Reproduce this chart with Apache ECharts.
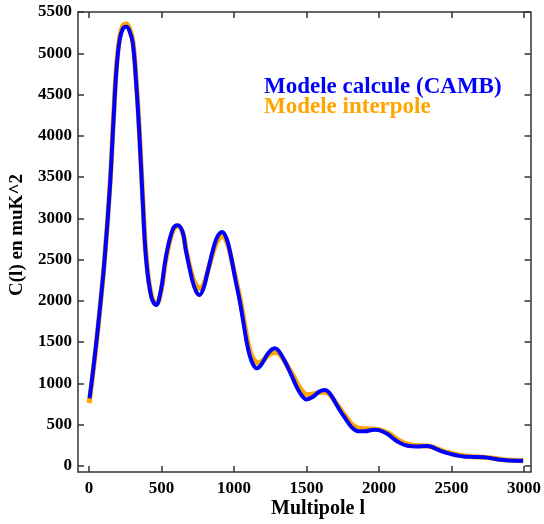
<!DOCTYPE html>
<html>
<head>
<meta charset="utf-8">
<script src="https://cdn.jsdelivr.net/npm/echarts@6/dist/echarts.min.js"></script>
<style>
html,body{margin:0;padding:0;background:#fff;}
#chart{width:544px;height:524px;}
</style>
</head>
<body>
<div id="chart"></div>
<script>
// Multipole l vs C(l)
const xTicks = [0, 500, 1000, 1500, 2000, 2500, 3000];
const yTicks = [0, 500, 1000, 1500, 2000, 2500, 3000, 3500, 4000, 4500, 5000, 5500];

const camb = [
  [5, 820], [40, 1320], [75, 1890], [110, 2540], [145, 3380], [170, 4200], [190, 4800],
  [212, 5160], [235, 5300], [258, 5320], [280, 5270], [303, 5120], [326, 4640], [349, 3990],
  [372, 3180], [395, 2500], [430, 2050], [463, 1950], [497, 2130], [531, 2530], [577, 2860],
  [611, 2915], [645, 2840], [668, 2620], [713, 2250], [740, 2110], [762, 2070], [790, 2150],
  [816, 2330], [862, 2660], [890, 2790], [919, 2835], [948, 2760], [976, 2570], [1010, 2260],
  [1040, 2000], [1067, 1720], [1088, 1500], [1110, 1330], [1135, 1220], [1158, 1182],
  [1190, 1230], [1230, 1350], [1262, 1412], [1284, 1425], [1310, 1390], [1350, 1270],
  [1397, 1095], [1440, 930], [1475, 835], [1500, 805], [1540, 830], [1590, 900], [1626, 920],
  [1660, 880], [1700, 765], [1728, 680], [1770, 570], [1808, 476], [1854, 420], [1900, 418],
  [1968, 438], [2000, 432], [2059, 385], [2127, 295], [2196, 242], [2260, 235], [2332, 240],
  [2370, 225], [2401, 200], [2450, 165], [2492, 145], [2540, 125], [2583, 113], [2650, 108],
  [2720, 103], [2780, 90], [2834, 73], [2900, 65], [2994, 61]
];

const interp = [
  [2, 760], [40, 1300], [75, 1880], [110, 2540], [145, 3390], [170, 4220], [190, 4830],
  [212, 5190], [235, 5335], [258, 5355], [280, 5300], [303, 5150], [326, 4680], [349, 4030],
  [372, 3220], [395, 2540], [430, 2070], [465, 1960], [499, 2130], [533, 2520], [579, 2850],
  [613, 2905], [648, 2820], [671, 2610], [716, 2280], [744, 2180], [766, 2150], [794, 2210],
  [820, 2360], [866, 2640], [895, 2750], [924, 2780], [953, 2705], [981, 2520], [1016, 2240],
  [1048, 1980], [1075, 1700], [1097, 1490], [1119, 1350], [1143, 1275], [1166, 1245],
  [1198, 1275], [1238, 1340], [1268, 1368], [1292, 1372], [1318, 1345], [1358, 1245],
  [1405, 1105], [1448, 965], [1484, 880], [1508, 862], [1548, 870], [1598, 893], [1634, 890],
  [1668, 850], [1708, 752], [1736, 682], [1778, 582], [1816, 500], [1862, 456], [1908, 448],
  [1976, 442], [2008, 436], [2067, 395], [2135, 312], [2204, 258], [2268, 245], [2340, 238],
  [2378, 222], [2409, 202], [2458, 170], [2500, 152], [2548, 132], [2591, 120], [2658, 110],
  [2728, 103], [2788, 92], [2842, 78], [2908, 66], [2994, 60]
];

const seriesNames = ['Modele calcule (CAMB)', 'Modele interpole'];
const xName = 'Multipole l';
const yName = 'C(l) en muK^2';

const FONT = '"Liberation Serif", "Times New Roman", serif';
const axisLineStyle = { color: '#333', width: 1.5 };
const plainNum = v => String(v);

const chart = echarts.init(document.getElementById('chart'), null, { renderer: 'canvas' });

const option = {
  animation: false,
  backgroundColor: '#fff',
  grid: { left: 78, top: 12, right: 10, bottom: 52, containLabel: false },
  xAxis: [
    {
      type: 'value', position: 'bottom', min: -75, max: 3045,
      axisLine: { show: true, onZero: false, lineStyle: axisLineStyle },
      axisTick: { show: true, inside: true, length: 6, lineStyle: axisLineStyle, customValues: xTicks },
      axisLabel: { show: true, customValues: xTicks, formatter: plainNum, margin: 8, color: '#000', fontFamily: FONT, fontWeight: 'bold', fontSize: 17 },
      splitLine: { show: false }
    },
    {
      type: 'value', position: 'top', min: -75, max: 3045,
      axisLine: { show: true, onZero: false, lineStyle: axisLineStyle },
      axisTick: { show: true, inside: true, length: 6, lineStyle: axisLineStyle, customValues: xTicks },
      axisLabel: { show: false },
      splitLine: { show: false }
    }
  ],
  yAxis: [
    {
      type: 'value', position: 'left', min: -75, max: 5500,
      axisLine: { show: true, onZero: false, lineStyle: axisLineStyle },
      axisTick: { show: true, inside: true, length: 6, lineStyle: axisLineStyle, customValues: yTicks },
      axisLabel: { show: true, customValues: yTicks, formatter: plainNum, margin: 6, color: '#000', fontFamily: FONT, fontWeight: 'bold', fontSize: 17 },
      splitLine: { show: false }
    },
    {
      type: 'value', position: 'right', min: -75, max: 5500,
      axisLine: { show: true, onZero: false, lineStyle: axisLineStyle },
      axisTick: { show: true, inside: true, length: 6, lineStyle: axisLineStyle, customValues: yTicks },
      axisLabel: { show: false },
      splitLine: { show: false }
    }
  ],
  series: [
    {
      name: seriesNames[1], type: 'line', xAxisIndex: 0, yAxisIndex: 0,
      data: interp, smooth: 0.4, symbol: 'none',
      lineStyle: { color: '#FFA500', width: 5 }, z: 2
    },
    {
      name: seriesNames[0], type: 'line', xAxisIndex: 0, yAxisIndex: 0,
      data: camb, smooth: 0.4, symbol: 'none',
      lineStyle: { color: '#0000FF', width: 4 }, z: 3
    }
  ],
  graphic: [
    { type: 'text', left: 264, top: 76, style: { text: seriesNames[0], fill: '#0000FF', font: 'bold 23px ' + FONT } },
    { type: 'text', left: 264, top: 96, style: { text: seriesNames[1], fill: '#FFA500', font: 'bold 23px ' + FONT } },
    { type: 'text', x: 318, y: 509, style: { text: xName, fill: '#000', font: 'bold 20px ' + FONT, align: 'center', verticalAlign: 'middle' } },
    { type: 'text', x: 17, y: 235, rotation: Math.PI / 2, style: { text: yName, fill: '#000', font: 'bold 19px ' + FONT, align: 'center', verticalAlign: 'middle' } }
  ]
};
chart.setOption(option);
</script>
</body>
</html>
